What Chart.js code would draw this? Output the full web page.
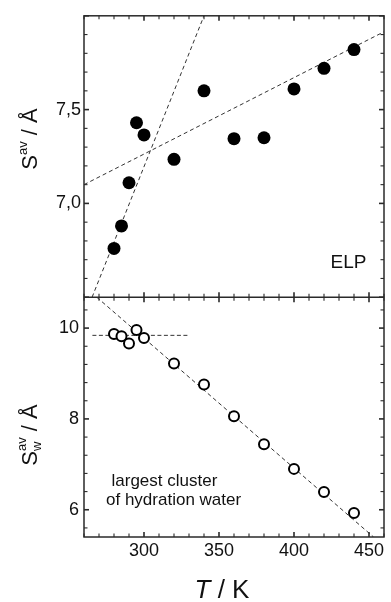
<!DOCTYPE html>
<html>
<head>
<meta charset="utf-8">
<script src="https://cdn.jsdelivr.net/npm/chart.js@4/dist/chart.umd.min.js"></script>
<style>
  html, body { margin: 0; padding: 0; background: #fff; }
  #wrap { width: 391px; height: 602px; }
</style>
</head>
<body>
<div id="wrap"><canvas id="c" width="391" height="602"></canvas></div>
<script>
// Temperatures (K) at which both quantities were sampled
const temps = [280, 285, 290, 295, 300, 320, 340, 360, 380, 400, 420, 440];
// Average size of the ELP chain, S^av (Å)
const sElp = [6.76, 6.88, 7.11, 7.43, 7.365, 7.235, 7.60, 7.345, 7.35, 7.61, 7.72, 7.82];
// Average size of the largest cluster of hydration water, S_w^av (Å)
const sWater = [9.87, 9.82, 9.66, 9.96, 9.78, 9.22, 8.76, 8.06, 7.44, 6.90, 6.39, 5.93];

// Linear guide lines, as [T, S] end points
const fitElpLow = [[265.4, 6.5], [340, 8.0]];
const fitElpHigh = [[260, 7.10], [460, 7.915]];
const fitWaterLow = [[265.6, 9.84], [329, 9.84]];
const fitWaterHigh = [[268.5, 10.68], [453, 5.4]];

// Labelled ticks
const xTicks = [300, 350, 400, 450];
const yTopTicks = [7.0, 7.5];
const yBotTicks = [6, 8, 10];

const FONT = '"Liberation Sans", Arial, Helvetica, sans-serif';
const INK = '#111';
const AXIS = '#2a2a2a';

const pts = (xs, ys) => xs.map((t, i) => ({x: t, y: ys[i]}));
const seg = s => s.map(p => ({x: p[0], y: p[1]}));

function guide(data, yAxisID, dash) {
  return {
    data: seg(data), yAxisID, showLine: true, fill: false,
    borderColor: '#333', borderWidth: 1, borderDash: dash,
    pointRadius: 0, pointHoverRadius: 0, tension: 0
  };
}

// Frame, inward ticks and free text
const framePlugin = {
  id: 'frame',
  afterDraw(chart) {
    const {ctx, chartArea: a} = chart;
    const x = chart.scales.x, yT = chart.scales.yTop, yB = chart.scales.yBot;
    const mid = yT.bottom;
    const line = (x1, y1, x2, y2) => { ctx.beginPath(); ctx.moveTo(x1, y1); ctx.lineTo(x2, y2); ctx.stroke(); };
    ctx.save();
    ctx.strokeStyle = AXIS;
    ctx.lineWidth = 1.5;
    ctx.strokeRect(a.left, a.top, a.right - a.left, a.bottom - a.top);
    line(a.left, mid, a.right, mid);

    // temperature ticks: every 10 K, major every 50 K
    for (let v = 260; v <= 460; v += 10) {
      const px = x.getPixelForValue(v);
      const major = v % 50 === 0;
      const len = major ? 5 : 3.5;
      ctx.lineWidth = major ? 1.6 : 1.1;
      line(px, a.top, px, a.top + len);
      line(px, a.bottom, px, a.bottom - len);
      line(px, mid - len, px, mid + len);
    }
    // upper panel: every 0.1, major every 0.5
    for (let k = 65; k <= 80; k++) {
      const py = yT.getPixelForValue(k / 10);
      const major = k % 5 === 0;
      const len = major ? 5 : 3.5;
      ctx.lineWidth = major ? 1.6 : 1.1;
      line(a.left, py, a.left + len, py);
      line(a.right, py, a.right - len, py);
    }
    // lower panel: every 0.4, major every 2
    for (let k = -1; k <= 11; k++) {
      const v = 6 + k * 0.4;
      if (v < yB.min || v > yB.max) continue;
      const py = yB.getPixelForValue(v);
      const major = k % 5 === 0;
      const len = major ? 5 : 3.5;
      ctx.lineWidth = major ? 1.6 : 1.1;
      line(a.left, py, a.left + len, py);
      line(a.right, py, a.right - len, py);
    }

    ctx.fillStyle = INK;
    ctx.textBaseline = 'alphabetic';
    ctx.textAlign = 'left';

    // rotated axis titles
    const runs = (baseX, centerY, parts) => {
      ctx.save();
      ctx.translate(baseX, centerY);
      ctx.rotate(-Math.PI / 2);
      let total = 0;
      parts.forEach(p => { ctx.font = p.font; p.w = ctx.measureText(p.text).width; });
      parts.forEach(p => { if (!p.stack) total += p.w; });
      let cx = -total / 2;
      parts.forEach(p => {
        ctx.font = p.font;
        ctx.fillText(p.text, cx, p.dy || 0);
        if (!p.stack) cx += p.w;
      });
      ctx.restore();
    };
    runs(37, 139, [
      {text: 'S', font: '22px ' + FONT},
      {text: 'av', font: '13px ' + FONT, dy: -10},
      {text: ' / Å', font: '22px ' + FONT}
    ]);
    runs(37, 435, [
      {text: 'S', font: '22px ' + FONT},
      {text: 'w', font: '13px ' + FONT, dy: 4, stack: true},
      {text: 'av', font: '13px ' + FONT, dy: -11},
      {text: ' / Å', font: '22px ' + FONT}
    ]);

    // x-axis title: italic T / K
    ctx.font = 'italic 26px ' + FONT;
    const tw = ctx.measureText('T').width;
    ctx.font = '26px ' + FONT;
    const rw = ctx.measureText(' / K').width;
    const sx = 222 - (tw + rw) / 2;
    ctx.font = 'italic 26px ' + FONT;
    ctx.fillText('T', sx, 598);
    ctx.font = '26px ' + FONT;
    ctx.fillText(' / K', sx + tw, 598);

    // panel annotations
    ctx.font = '19px ' + FONT;
    ctx.fillText('ELP', 330.5, 268);
    ctx.font = '17px ' + FONT;
    ctx.fillText('largest cluster', 111.5, 486);
    ctx.fillText('of hydration water', 106, 504.5);
    ctx.restore();
  }
};

new Chart(document.getElementById('c'), {
  type: 'scatter',
  data: {
    datasets: [
      {
        data: pts(temps, sElp), yAxisID: 'yTop',
        pointRadius: 6.5, pointHoverRadius: 6.5,
        backgroundColor: '#000', borderColor: '#000', borderWidth: 0
      },
      {
        data: pts(temps, sWater), yAxisID: 'yBot',
        pointRadius: 5, pointHoverRadius: 5,
        backgroundColor: '#fff', borderColor: '#000', borderWidth: 2
      },
      guide(fitElpLow, 'yTop', [4, 3]),
      guide(fitElpHigh, 'yTop', [4, 3]),
      guide(fitWaterLow, 'yBot', [4, 2.5]),
      guide(fitWaterHigh, 'yBot', [4, 3])
    ]
  },
  options: {
    responsive: false,
    devicePixelRatio: 1,
    animation: false,
    events: [],
    layout: {padding: {top: 11, right: 1, left: 0, bottom: 0}},
    plugins: {legend: {display: false}, tooltip: {enabled: false}},
    scales: {
      x: {
        type: 'linear', position: 'bottom', min: 260, max: 460,
        grid: {display: false, drawTicks: false},
        border: {display: false},
        afterBuildTicks: s => { s.ticks = xTicks.map(v => ({value: v})); },
        afterFit: s => { s.height = 65; },
        ticks: {color: INK, font: {family: FONT, size: 18}, padding: 3, maxRotation: 0, autoSkip: false}
      },
      yBot: {
        type: 'linear', position: 'left', stack: 'panels', stackWeight: 242,
        min: 5.4, max: 10.68,
        grid: {display: false, drawTicks: false},
        border: {display: false},
        afterBuildTicks: s => { s.ticks = yBotTicks.map(v => ({value: v})); },
        afterFit: s => { s.width = 84; },
        ticks: {color: INK, font: {family: FONT, size: 18}, padding: 5, autoSkip: false,
                callback: v => String(v)}
      },
      yTop: {
        type: 'linear', position: 'left', stack: 'panels', stackWeight: 284,
        min: 6.5, max: 8.0,
        grid: {display: false, drawTicks: false},
        border: {display: false},
        afterBuildTicks: s => { s.ticks = yTopTicks.map(v => ({value: v})); },
        afterFit: s => { s.width = 84; },
        ticks: {color: INK, font: {family: FONT, size: 18}, padding: 3, autoSkip: false,
                callback: v => v.toFixed(1).replace('.', ',')}
      }
    }
  },
  plugins: [framePlugin]
});
</script>
</body>
</html>
